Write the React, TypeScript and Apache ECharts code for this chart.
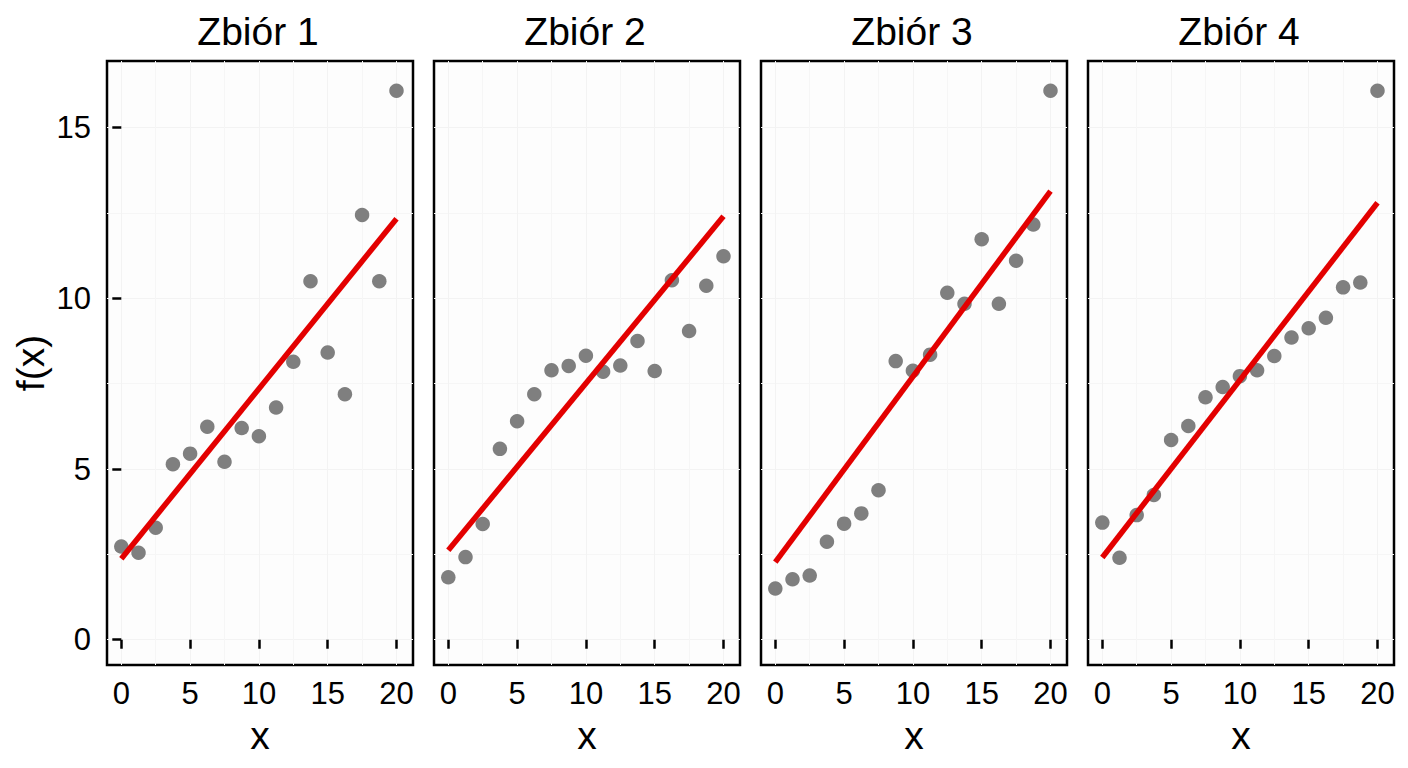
import React, { useEffect, useRef } from "react";
import * as echarts from "echarts";

const xValues = [0, 1.25, 2.5, 3.75, 5, 6.25, 7.5, 8.75, 10, 11.25, 12.5, 13.75, 15, 16.25, 17.5, 18.75, 20];
const set1 = [2.73, 2.55, 3.28, 5.14, 5.45, 6.24, 5.21, 6.2, 5.96, 6.8, 8.14, 10.5, 8.41, 7.19, 12.44, 10.5, 16.08];
const set2 = [1.83, 2.42, 3.39, 5.59, 6.4, 7.19, 7.89, 8.02, 8.32, 7.85, 8.03, 8.75, 7.87, 10.53, 9.04, 10.37, 11.23];
const set3 = [1.5, 1.77, 1.88, 2.87, 3.4, 3.7, 4.38, 8.16, 7.88, 8.35, 10.16, 9.84, 11.73, 9.84, 11.1, 12.16, 16.08];
const set4 = [3.43, 2.4, 3.65, 4.24, 5.85, 6.26, 7.1, 7.4, 7.72, 7.89, 8.31, 8.85, 9.12, 9.43, 10.32, 10.46, 16.08];
const sets = [set1, set2, set3, set4];

const panelTitles = ["Zbiór 1", "Zbiór 2", "Zbiór 3", "Zbiór 4"];
const fitX = [0, 20];
const fitStart = [2.37, 2.62, 2.27, 2.41];
const fitEnd = [12.33, 12.4, 13.14, 12.8];

const xTicks = [0, 5, 10, 15, 20];
const yTicks = [0, 5, 10, 15];
const xMinor = [2.5, 7.5, 12.5, 17.5];
const yMinor = [2.5, 7.5, 12.5];

const X_MIN = -1.04;
const X_MAX = 21.2;
const Y_MIN = -0.74;
const Y_MAX = 16.95;

const PANEL_LEFT = 107;
const PANEL_STEP = 327;
const PANEL_W = 306;
const PANEL_TOP = 61;
const PANEL_H = 604;

const FONT = "'Liberation Sans', Arial, Helvetica, sans-serif";

export default function App() {
  const ref = useRef<HTMLDivElement>(null);

  useEffect(() => {
    document.body.style.margin = "0";
    if (!ref.current) return;
    const chart = echarts.init(ref.current, undefined, { renderer: "svg" });

    const grids: any[] = [];
    const xAxes: any[] = [];
    const yAxes: any[] = [];
    const series: any[] = [];
    const graphics: any[] = [];

    for (let i = 0; i < 4; i++) {
      const left = PANEL_LEFT + i * PANEL_STEP;
      grids.push({
        left,
        top: PANEL_TOP,
        width: PANEL_W,
        height: PANEL_H,
        show: true,
        backgroundColor: "#fdfdfd",
        borderColor: "#000",
        borderWidth: 2.5,
      });
      graphics.push({
        type: "text",
        x: left + PANEL_W / 2 - 2,
        y: 31,
        style: {
          text: panelTitles[i],
          fontSize: 39,
          fontFamily: FONT,
          fill: "#000",
          align: "center",
          verticalAlign: "middle",
        },
      });
    }

    // major axes
    for (let i = 0; i < 4; i++) {
      xAxes.push({
        type: "value",
        gridIndex: i,
        min: X_MIN,
        max: X_MAX,
        position: "bottom",
        name: "x",
        nameLocation: "middle",
        nameGap: 51,
        nameTextStyle: { fontSize: 39, fontFamily: FONT, color: "#000" },
        axisLine: { show: false },
        axisTick: {
          show: true,
          inside: false,
          length: 9,
          customValues: xTicks,
          lineStyle: { color: "#000", width: 2.5 },
        },
        axisLabel: {
          show: true,
          customValues: xTicks,
          fontSize: 31,
          fontFamily: FONT,
          color: "#000",
          margin: 13,
        },
        splitLine: { show: true, lineStyle: { color: "#f3f3f3", width: 1 } },
      });
      yAxes.push({
        type: "value",
        gridIndex: i,
        min: Y_MIN,
        max: Y_MAX,
        position: "left",
        name: i === 0 ? "f(x)" : "",
        nameLocation: "middle",
        nameRotate: 90,
        nameGap: 57,
        nameTextStyle: { fontSize: 39, fontFamily: FONT, color: "#000" },
        axisLine: { show: false },
        axisTick: {
          show: i === 0,
          inside: false,
          length: 9,
          customValues: yTicks,
          lineStyle: { color: "#000", width: 2.5 },
        },
        axisLabel: {
          show: i === 0,
          customValues: yTicks,
          fontSize: 31,
          fontFamily: FONT,
          color: "#000",
          margin: 16,
        },
        splitLine: { show: true, lineStyle: { color: "#f3f3f3", width: 1 } },
      });
    }
    // minor grid axes (hidden)
    for (let i = 0; i < 4; i++) {
      xAxes.push({
        type: "value",
        gridIndex: i,
        min: X_MIN,
        max: X_MAX,
        position: "top",
        axisLine: { show: false },
        axisTick: { show: false, customValues: xMinor },
        axisLabel: { show: false, customValues: xMinor },
        splitLine: { show: true, lineStyle: { color: "#f6f6f6", width: 1 } },
      });
      yAxes.push({
        type: "value",
        gridIndex: i,
        min: Y_MIN,
        max: Y_MAX,
        position: "right",
        axisLine: { show: false },
        axisTick: { show: false, customValues: yMinor },
        axisLabel: { show: false, customValues: yMinor },
        splitLine: { show: true, lineStyle: { color: "#f6f6f6", width: 1 } },
      });
    }

    for (let i = 0; i < 4; i++) {
      series.push({
        type: "scatter",
        xAxisIndex: i,
        yAxisIndex: i,
        data: xValues.map((x, j) => [x, sets[i][j]]),
        symbol: "circle",
        symbolSize: 14.5,
        itemStyle: { color: "#7f7f7f", opacity: 1 },
        z: 2,
      });
      series.push({
        type: "line",
        xAxisIndex: i,
        yAxisIndex: i,
        data: [
          [fitX[0], fitStart[i]],
          [fitX[1], fitEnd[i]],
        ],
        symbol: "none",
        lineStyle: { color: "#e30000", width: 5.5 },
        z: 3,
      });
    }

    chart.setOption({
      animation: false,
      backgroundColor: "#fff",
      grid: grids,
      xAxis: xAxes,
      yAxis: yAxes,
      series,
      graphic: graphics,
    });

    return () => chart.dispose();
  }, []);

  return <div ref={ref} style={{ width: 1408, height: 768 }} />;
}
